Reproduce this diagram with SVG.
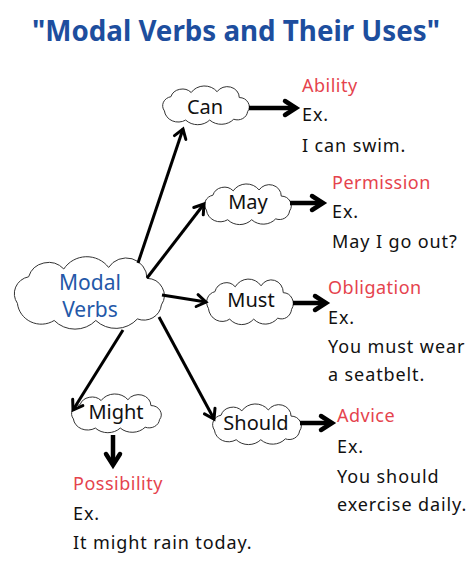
<svg xmlns="http://www.w3.org/2000/svg" xmlns:xlink="http://www.w3.org/1999/xlink" width="473" height="588" viewBox="0 0 473 588">
<style>
.title{font-family:"Noto Sans","DejaVu Sans",sans-serif;font-weight:bold;font-size:28px;fill:#1d4e9e}
.node{font-family:"Noto Sans","DejaVu Sans",sans-serif;font-size:20px;fill:#111;text-anchor:middle}
.main{font-family:"Noto Sans","DejaVu Sans",sans-serif;font-size:21px;fill:#2458a8;text-anchor:middle}
.use{font-family:"Noto Sans","DejaVu Sans",sans-serif;font-size:18px;fill:#e5434d;letter-spacing:0.5px}
.ex{font-family:"Noto Sans","DejaVu Sans",sans-serif;font-size:18px;fill:#111;letter-spacing:0.9px}
.thin{fill:none;stroke:#000;stroke-width:3;marker-end:url(#headThin)}
.thick{fill:none;stroke:#000;stroke-width:4.5;marker-end:url(#headThick)}
</style>
<defs>
<symbol id="cloud" viewBox="0 0 100 50" preserveAspectRatio="none" overflow="visible">
<path d="M5,32 A11,11 0 0 1 12,15 A13,13 0 0 1 34,10 A17,17 0 0 1 62,9 A13,13 0 0 1 86,16 A11,11 0 0 1 95,33 A11,11 0 0 1 80,42 A18,18 0 0 1 54,43 A18,18 0 0 1 28,43 A15,15 0 0 1 5,32 Z" fill="#fff" stroke="#333" stroke-width="1" vector-effect="non-scaling-stroke"/>
</symbol>
<marker id="headThin" markerUnits="userSpaceOnUse" viewBox="-12 -8 14 16" markerWidth="14" markerHeight="16" refX="0" refY="0" orient="auto" overflow="visible">
<path d="M-9,-6 L0,0 L-9,6" fill="none" stroke="#000" stroke-width="3" stroke-linecap="round"/>
</marker>
<marker id="headThick" markerUnits="userSpaceOnUse" viewBox="-14 -9 16 18" markerWidth="16" markerHeight="18" refX="0" refY="0" orient="auto" overflow="visible">
<path d="M-11,-7 L0,0 L-11,7" fill="none" stroke="#000" stroke-width="4.5" stroke-linecap="round"/>
</marker>
</defs>
<rect width="473" height="588" fill="#fff"/>
<text class="title" x="236" y="41" text-anchor="middle" textLength="408" lengthAdjust="spacingAndGlyphs">"Modal Verbs and Their Uses"</text>

<g id="modal-verbs">
<use xlink:href="#cloud" href="#cloud" x="9.4" y="253.4" width="160" height="78"/>
<text class="main" x="90" y="290">Modal</text>
<text class="main" x="90" y="317">Verbs</text>
</g>
<g id="can">
<use xlink:href="#cloud" href="#cloud" x="159.8" y="84.2" width="92.4" height="41.7"/>
<text class="node" x="205" y="114">Can</text>
</g>
<g id="may">
<use xlink:href="#cloud" href="#cloud" x="201.8" y="182.1" width="92.4" height="43.75"/>
<text class="node" x="248" y="209">May</text>
</g>
<g id="must">
<use xlink:href="#cloud" href="#cloud" x="203.8" y="277" width="92.4" height="49"/>
<text class="node" x="251" y="307">Must</text>
</g>
<g id="should">
<use xlink:href="#cloud" href="#cloud" x="209.7" y="402.1" width="94.6" height="43.75"/>
<text class="node" x="256" y="430">Should</text>
</g>
<g id="might">
<use xlink:href="#cloud" href="#cloud" x="68.6" y="392.2" width="95.7" height="41.7"/>
<text class="node" x="116" y="419">Might</text>
</g>

<g id="ability">
<text class="use" x="302" y="92">Ability</text>
<text class="ex" x="302" y="121">Ex.</text>
<text class="ex" x="302" y="152">I can swim.</text>
</g>
<g id="permission">
<text class="use" x="332" y="189">Permission</text>
<text class="ex" x="332" y="218">Ex.</text>
<text class="ex" x="332" y="248">May I go out?</text>
</g>
<g id="obligation">
<text class="use" x="328" y="294">Obligation</text>
<text class="ex" x="328" y="324">Ex.</text>
<text class="ex" x="328" y="353">You must wear</text>
<text class="ex" x="328" y="381">a seatbelt.</text>
</g>
<g id="advice">
<text class="use" x="337" y="422">Advice</text>
<text class="ex" x="337" y="453">Ex.</text>
<text class="ex" x="337" y="483">You should</text>
<text class="ex" x="337" y="511">exercise daily.</text>
</g>
<g id="possibility">
<text class="use" x="73" y="490">Possibility</text>
<text class="ex" x="73" y="520">Ex.</text>
<text class="ex" x="73" y="549">It might rain today.</text>
</g>

<g id="connectors">
<path class="thin" d="M138,263 L183,129"/>
<path class="thin" d="M147,278 L204,204"/>
<path class="thin" d="M162,295 L206,302"/>
<path class="thin" d="M159,317 L214,419"/>
<path class="thin" d="M123,330 L73,410"/>
<path class="thick" d="M249,108 L296,108"/>
<path class="thick" d="M290,203 L323,203"/>
<path class="thick" d="M293,303 L326,303"/>
<path class="thick" d="M300,423 L332,423"/>
<path class="thick" d="M113,435 L113,465"/>
</g>
</svg>
